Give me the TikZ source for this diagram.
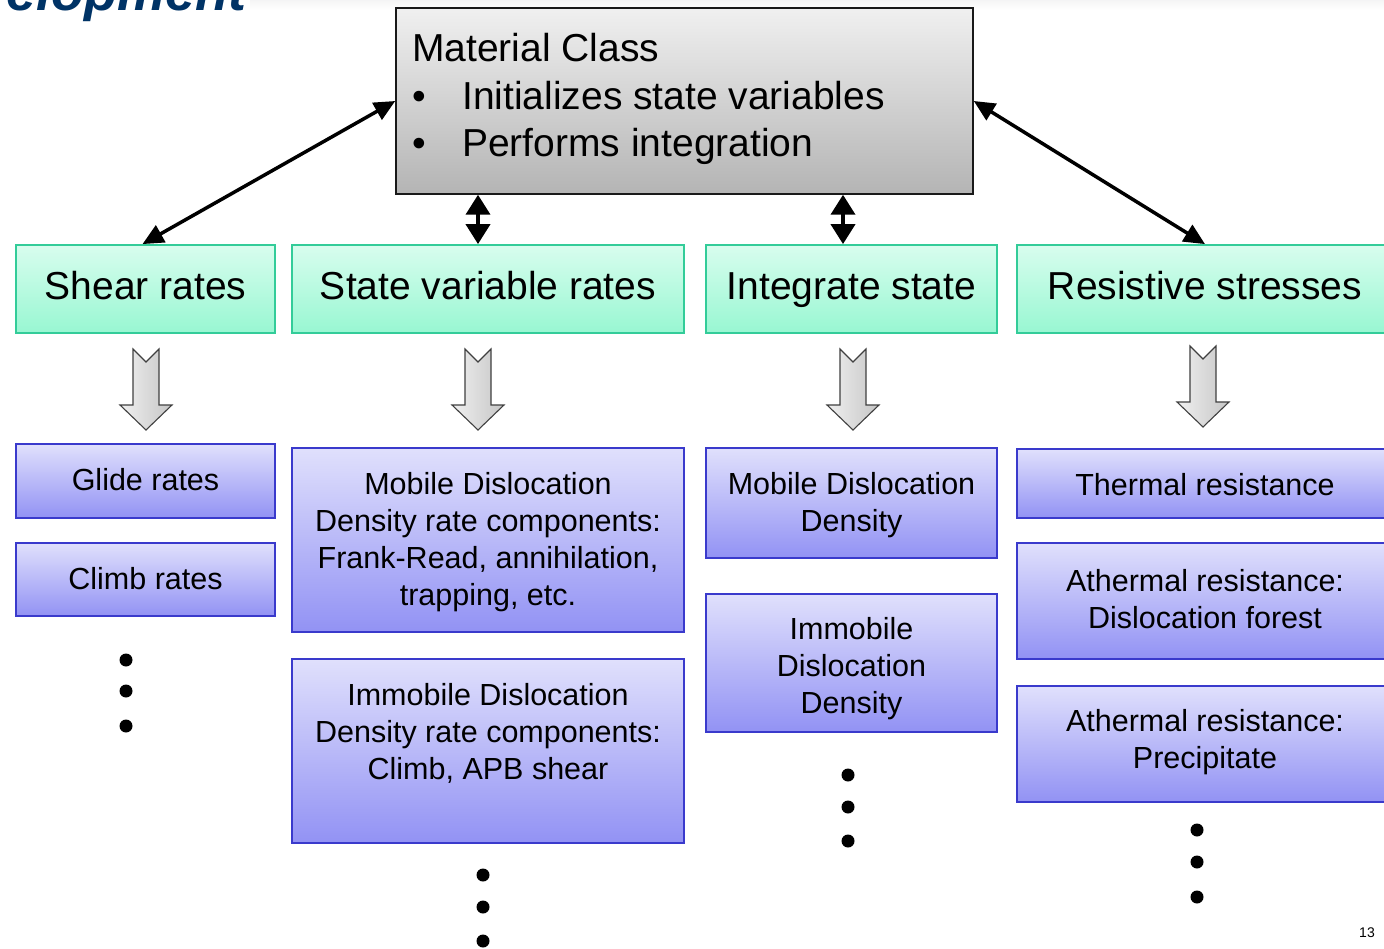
\documentclass[tikz,border=0pt]{standalone}
\usepackage{fontspec}
\setmainfont{Liberation Sans}
\usetikzlibrary{arrows.meta,calc}
\definecolor{greenT}{HTML}{D8FDEE}
\definecolor{greenB}{HTML}{98F7D2}
\definecolor{greenline}{HTML}{33CC99}
\definecolor{blueT}{HTML}{E0E0FC}
\definecolor{blueB}{HTML}{9292F4}
\definecolor{blueline}{HTML}{3A3ACC}
\definecolor{grayT}{HTML}{F0F0F0}
\definecolor{grayB}{HTML}{B4B4B4}
\definecolor{titleblue}{HTML}{003366}
\definecolor{barrowline}{HTML}{404040}
\tikzset{
  greenbox/.style={draw=greenline, line width=1.8pt, top color=greenT, bottom color=greenB, inner sep=0pt,
    text height=28pt, text depth=6pt, font=\fontsize{39}{47}\selectfont},
  bluebox/.style={draw=blueline, line width=1.4pt, top color=blueT, bottom color=blueB, inner sep=0pt},
  btxt/.style={align=center, inner sep=0pt, font=\fontsize{30.5}{37}\selectfont},
  toptxt/.style={anchor=base west, inner sep=0pt, font=\fontsize{39}{47}\selectfont},
  dbl/.style={line width=3.5pt, {Triangle[length=21pt,width=19pt]}-{Triangle[length=21pt,width=19pt]}},
  vdbl/.style={line width=4pt, {Triangle[length=20pt,width=24pt]}-{Triangle[length=20pt,width=24pt]}},
  blockarrow/.style={draw=barrowline, line width=1.1pt, left color=gray!12, right color=gray!45},
  dot/.style={circle, fill=black, inner sep=0pt, minimum size=13pt},
}
\begin{document}
\begin{tikzpicture}[x=1pt,y=-1pt]
\useasboundingbox (0,0) rectangle (1384,949);
\fill[white] (0,0) rectangle (1384,949);
\fill[top color=blue!3!gray!8, bottom color=white] (250,0) rectangle (1384,10);
% title fragment
\node[anchor=base east, inner sep=0pt, text=titleblue, font=\fontsize{54}{60}\selectfont\bfseries\itshape] (title) at (247,11) {elopment};

% top box
\node[draw=black!90, line width=1.5pt, top color=grayT, bottom color=grayB, minimum width=577pt, minimum height=186pt, inner sep=0pt] (top) at (684.5,101) {};
\node[toptxt] (t1) at (412,62) {Material Class};
\node[toptxt] (b1) at (412,110) {•};
\node[toptxt] (t2) at (462,110) {Initializes state variables};
\node[toptxt] (b2) at (412,157) {•};
\node[toptxt] (t3) at (462,157) {Performs integration};

% green boxes
\node[greenbox, minimum width=259pt, minimum height=88pt] (shear) at (145.5,289) {Shear rates};
\node[greenbox, minimum width=392pt, minimum height=88pt] (svr) at (488,289) {State variable rates};
\node[greenbox, minimum width=291pt, minimum height=88pt] (integ) at (851.5,289) {Integrate state};
\node[greenbox, minimum width=376pt, minimum height=88pt] (resist) at (1205,289) {Resistive stresses};

% connectors
\coordinate (sh) at ($(shear.north)+(-3,0)$);
\draw[dbl] (sh) -- (top.west);
\draw[dbl] (top.east) -- (resist.north);
\coordinate (v1) at (478,0);
\coordinate (v2) at (843,0);
\draw[vdbl] (v1 |- top.south) -- (v1 |- svr.north);
\draw[vdbl] (v2 |- top.south) -- (v2 |- integ.north);

% block arrows
\foreach \cx/\ty in {146/349, 478/349, 853/349, 1203/346}{
  \path[blockarrow] (\cx-13,\ty) -- (\cx,\ty+13) -- (\cx+13,\ty) -- (\cx+13,\ty+56) -- (\cx+26,\ty+56)
    -- (\cx,\ty+81) -- (\cx-26,\ty+56) -- (\cx-13,\ty+56) -- cycle;
}

% blue boxes
\node[bluebox, minimum width=259pt, minimum height=74pt] (glide) at (145.5,481) {};
\node[btxt] at (145.5,480) {Glide rates};
\node[bluebox, minimum width=259pt, minimum height=73pt] (climb) at (145.5,579.5) {};
\node[btxt] at (145.5,579) {Climb rates};

\node[bluebox, minimum width=392pt, minimum height=184pt] (mdr) at (488,540) {};
\node[btxt] at (488,542) {Mobile Dislocation\\Density rate components:\\Frank-Read, annihilation,\\trapping, etc.};
\node[bluebox, minimum width=392pt, minimum height=184pt] (idr) at (488,751) {};
\node[btxt] at (488,733) {Immobile Dislocation\\Density rate components:\\Climb, APB shear};

\node[bluebox, minimum width=291pt, minimum height=110pt] (mdd) at (851.5,503) {};
\node[btxt] at (851.5,505) {Mobile Dislocation\\Density};
\node[bluebox, minimum width=291pt, minimum height=138pt] (idd) at (851.5,663) {};
\node[btxt] at (851.5,669) {Immobile\\Dislocation\\Density};

\node[bluebox, minimum width=376pt, minimum height=69pt] (therm) at (1205,483.5) {};
\node[btxt] at (1205,485) {Thermal resistance};
\node[bluebox, minimum width=376pt, minimum height=116pt] (forest) at (1205,601) {};
\node[btxt] at (1205,599) {Athermal resistance:\\Dislocation forest};
\node[bluebox, minimum width=376pt, minimum height=116pt] (precip) at (1205,744) {};
\node[btxt] at (1205,742) {Athermal resistance:\\Precipitate};

% dots
\foreach \x/\y in {126/660, 126/691, 126/726, 483/875, 483/907, 483/941, 848/775, 848/807, 848/841, 1197/830, 1197/862, 1197/897}{
  \node[dot] at (\x,\y) {};
}

% page number
\node[inner sep=0pt, font=\fontsize{14}{16}\selectfont] (pnum) at (1367,933) {13};
\end{tikzpicture}
\end{document}
